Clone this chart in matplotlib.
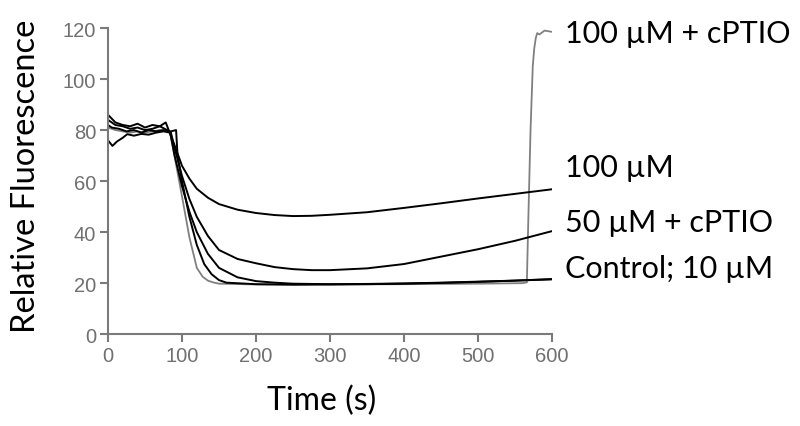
import matplotlib.pyplot as plt

# time (s) and relative fluorescence
t_100 = [0, 5, 10, 20, 30, 40, 50, 60, 70, 78, 82, 90, 100, 110, 120, 135, 150, 175,
         200, 225, 250, 275, 300, 350, 400, 450, 500, 550, 600]
f_100 = [86, 84.5, 83, 82, 81.5, 82.5, 81, 82, 81.5, 83, 80, 74, 66, 61, 57, 53.5, 51,
         48.8, 47.5, 46.7, 46.3, 46.4, 46.8, 47.8, 49.5, 51.3, 53.2, 55.0, 56.8]

t_50c = [0, 5, 10, 20, 30, 40, 50, 60, 70, 80, 85, 90, 100, 110, 120, 135, 150, 175,
         200, 225, 250, 275, 300, 350, 400, 450, 500, 550, 600]
f_50c = [84, 83, 82, 81.5, 80.5, 81, 80, 80.5, 81.5, 80, 79, 73, 62, 53, 46, 38.5, 33,
         29.5, 27.8, 26.3, 25.5, 25.1, 25.1, 25.8, 27.5, 30.4, 33.3, 36.6, 40.4]

t_ctrl = [0, 6, 12, 20, 26, 35, 45, 55, 65, 75, 84, 90, 100, 110, 120, 135, 150, 175,
          200, 225, 250, 300, 350, 400, 450, 500, 550, 600]
f_ctrl = [76, 73.8, 75.5, 77, 78.4, 77.8, 78.5, 78.2, 79, 79.5, 79, 70, 58, 48, 40, 31.5,
          26, 22.3, 20.8, 20.2, 19.8, 19.6, 19.7, 19.9, 20.2, 20.6, 21.0, 21.6]

t_10 = [0, 5, 15, 25, 35, 45, 55, 65, 75, 85, 92, 94, 100, 110, 120, 130, 140, 150, 160,
        200, 250, 300, 350, 400, 450, 500, 550, 600]
f_10 = [82, 81, 80.5, 79.5, 80, 79, 80, 79.5, 80, 79.5, 80, 70, 60, 46, 35, 27.5, 23.5,
        21.2, 20.2, 19.6, 19.4, 19.5, 19.6, 19.8, 20.1, 20.5, 21.0, 21.5]

t_100c = [0, 10, 20, 30, 40, 50, 60, 70, 80, 84, 100, 110, 120, 128, 135, 142, 150, 200,
          300, 400, 500, 560, 566, 568, 571, 574, 576, 578, 580, 583, 590, 600]
f_100c = [81, 80, 79.5, 79, 79.5, 79, 79.5, 80, 79.5, 79, 54, 38, 26, 22.5, 21, 20.3,
          19.8, 19.5, 19.5, 19.6, 19.8, 20, 20.3, 45, 80, 105, 112, 116, 118, 117.5, 119, 118.5]

labels = ['100 µM + cPTIO', '100 µM', '50 µM + cPTIO', 'Control; 10 µM']
label_y = [114.5, 62, 40.4, 22.4]

fig = plt.figure(figsize=(8, 4.27), dpi=100)
ax = fig.add_axes([0.135, 0.215, 0.555, 0.717])

ax.plot(t_100c, f_100c, color='#808080', lw=1.3)
ax.plot(t_100, f_100, color='black', lw=1.4)
ax.plot(t_50c, f_50c, color='black', lw=1.4)
ax.plot(t_ctrl, f_ctrl, color='black', lw=1.4)
ax.plot(t_10, f_10, color='black', lw=1.4)

ax.set_xlim(0, 600)
ax.set_ylim(0, 120)
ax.set_xticks(range(0, 601, 100))
ax.set_yticks(range(0, 121, 20))

for s in ['top', 'right']:
    ax.spines[s].set_visible(False)
for s in ['left', 'bottom']:
    ax.spines[s].set_color('#7a7a7a')
    ax.spines[s].set_linewidth(1.5)
ax.tick_params(direction='out', length=5.5, width=1.5, color='#7a7a7a',
               labelcolor='#707070', labelsize=14.5, pad=3)
for lab in ax.get_xticklabels() + ax.get_yticklabels():
    lab.set_family('Liberation Sans')

ax.set_xlabel('Time (s)', family='Lato', fontsize=23)
ax.set_ylabel('Relative Fluorescence', family='Lato', fontsize=23.5)
ax.xaxis.set_label_coords(0.482, -0.165)
ax.yaxis.set_label_coords(-0.15, 0.52)

for txt, yv in zip(labels, label_y):
    ax.text(618, yv, txt, family='Lato', fontsize=22, va='baseline', ha='left',
            clip_on=False)

fig.savefig('out.png', dpi=100)
